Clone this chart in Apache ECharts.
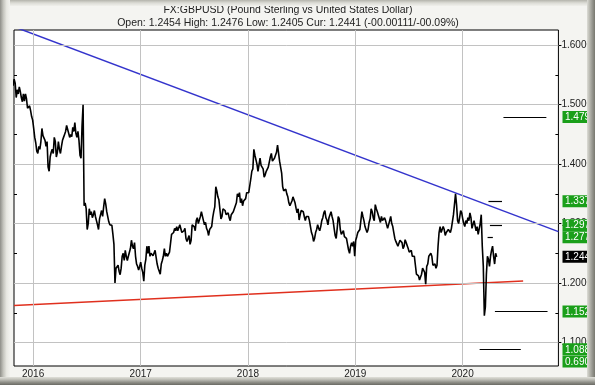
<!DOCTYPE html>
<html><head><meta charset="utf-8">
<script src="https://cdn.jsdelivr.net/npm/echarts@6/dist/echarts.min.js"></script>
<style>html,body{margin:0;padding:0;background:#f3f3ef}#c{width:595px;height:385px}</style>
</head><body><div id="c"></div>
<script>
const titleText = 'FX:GBPUSD (Pound Sterling vs United States Dollar)';
const subtitleText = 'Open: 1.2454 High: 1.2476 Low: 1.2405 Cur: 1.2441 (-00.00111/-00.09%)';
const yearLabels = [2016, 2017, 2018, 2019, 2020];
const yGridValues = [1.1, 1.2, 1.3, 1.4, 1.5, 1.6];
const yMinorValues = [1.1, 1.15, 1.2, 1.25, 1.3, 1.35, 1.4, 1.45, 1.5, 1.55, 1.6];
const xRange = ['2015-10-28', '2020-11-22'];
const yRange = [1.0605, 1.6256];

const startDate = '2015-10-25';
const stepDays = 3.5;
const px2015 = [1.532,1.543,1.536,1.512,1.525,1.518,1.530,1.522,1.512,1.505,1.518,1.506,1.518,1.510,1.494,1.492,1.498,1.490,1.480];
const px2016 = [
 1.474,1.460,1.445,1.436,1.422,1.418,1.430,1.425,1.438,
 1.460,1.448,1.447,1.440,1.430,1.438,1.395,1.388,
 1.412,1.420,1.425,1.418,1.445,1.438,1.412,1.420,1.438,
 1.425,1.418,1.430,1.440,1.445,1.450,1.455,1.465,
 1.468,1.452,1.445,1.450,1.446,1.462,1.455,1.470,1.452,
 1.445,1.455,1.440,1.415,1.410,1.465,1.500,1.330,1.335,
 1.325,1.290,1.300,1.325,1.315,1.320,1.310,1.315,1.322,
 1.312,1.305,1.298,1.290,1.308,1.315,1.322,1.312,
 1.328,1.342,1.333,1.320,1.322,1.303,1.298,1.300,1.297,
 1.282,1.265,1.200,1.225,1.222,1.230,1.220,1.214,1.225,
 1.245,1.250,1.238,1.255,1.245,1.238,1.245,1.248,
 1.258,1.272,1.262,1.258,1.268,1.245,1.232,1.228,1.222];
const px2017 = [
 1.228,1.235,1.225,1.218,1.203,1.230,1.240,1.262,1.250,
 1.262,1.245,1.250,1.248,1.246,1.245,1.255,1.243,
 1.232,1.225,1.220,1.215,1.232,1.238,1.245,1.258,1.245,
 1.250,1.245,1.248,1.252,1.255,1.282,1.280,1.285,1.292,
 1.288,1.295,1.288,1.290,1.298,1.300,1.285,1.282,
 1.288,1.292,1.275,1.270,1.275,1.280,1.265,1.272,1.298,
 1.300,1.295,1.288,1.305,1.310,1.300,1.302,1.312,1.320,
 1.322,1.305,1.298,1.302,1.292,1.288,1.280,1.290,1.290,
 1.295,1.310,1.320,1.328,1.362,1.355,1.345,1.340,
 1.338,1.308,1.312,1.325,1.328,1.322,1.315,1.312,1.318,
 1.310,1.305,1.315,1.312,1.320,1.325,1.330,1.335,1.350,
 1.345,1.352,1.335,1.342,1.330,1.338,1.335,1.342,1.352];
const px2018 = [
 1.355,1.352,1.355,1.375,1.388,1.392,1.425,1.415,
 1.418,1.400,1.388,1.385,1.410,1.398,1.395,1.392,
 1.378,1.382,1.388,1.390,1.395,1.398,1.412,1.418,1.405,
 1.405,1.410,1.415,1.420,1.432,1.430,1.405,1.395,1.385,
 1.362,1.355,1.352,1.358,1.350,1.345,1.335,1.330,1.332,
 1.338,1.345,1.340,1.335,1.326,1.318,1.325,1.306,
 1.315,1.322,1.325,1.320,1.312,1.305,1.312,1.315,1.312,
 1.305,1.295,1.285,1.280,1.270,1.275,1.285,1.290,1.298,
 1.292,1.288,1.295,1.305,1.310,1.318,1.322,1.310,1.306,
 1.298,1.310,1.315,1.320,1.312,1.305,1.292,1.280,
 1.275,1.292,1.312,1.308,1.290,1.282,1.285,1.288,1.278,
 1.280,1.275,1.272,1.256,1.250,1.262,1.268,1.262,1.270];
const px2019 = [
 1.245,1.272,1.278,1.285,1.288,1.290,1.305,1.320,1.312,
 1.305,1.295,1.290,1.285,1.290,1.302,1.308,1.325,
 1.320,1.310,1.305,1.332,1.325,1.320,1.318,1.308,1.302,
 1.312,1.305,1.308,1.310,1.305,1.302,1.292,1.295,
 1.305,1.312,1.300,1.295,1.285,1.275,1.270,1.268,1.262,
 1.265,1.272,1.270,1.268,1.258,1.262,1.273,1.268,1.270,
 1.258,1.252,1.250,1.255,1.245,1.248,1.245,1.230,
 1.215,1.212,1.212,1.205,1.210,1.215,1.225,1.222,1.218,
 1.198,1.228,1.232,1.245,1.248,1.250,1.245,1.230,1.232,
 1.232,1.225,1.230,1.262,1.285,1.295,1.285,1.285,1.295,
 1.290,1.280,1.285,1.288,1.290,1.292,1.285,1.292,
 1.292,1.315,1.314,1.350,1.332,1.305,1.300,1.310,1.322];
const px2020 = [
 1.318,1.308,1.300,1.295,1.305,1.300,1.310,1.305,1.318,
 1.310,1.292,1.290,1.305,1.302,1.288,1.295,1.282,
 1.282,1.300,1.315,1.262,1.228,1.145,1.160,1.215,1.245,
 1.240,1.228,1.245,1.255,1.262,1.245,1.232,1.250,1.244];

const targetLevels = [1.4793, 1.3376, 1.2973, 1.2772, 1.1523, 1.0886, 0.6903];
const targetStarts = ['2020-05-19', '2020-03-29', '2020-04-03', '2020-03-26', '2020-04-20', '2020-02-28', null];
const targetEnds   = ['2020-10-12', '2020-05-14', '2020-05-14', '2020-04-13', '2020-10-16', '2020-07-17', null];
const currentPrice = 1.2441;
const blueTrend = [['2015-10-28', 1.6311], ['2020-11-22', 1.2865]];
const redTrend  = [['2015-10-28', 1.1622], ['2020-07-25', 1.2034]];

const FONT = 'Liberation Sans';
const DAY = 86400000;
const toTs = s => Date.parse(s + 'T00:00:00Z');
const prices = [].concat(px2015, px2016, px2017, px2018, px2019, px2020);
const t0 = toTs(startDate);
const priceData = prices.map((v, i) => [t0 + i * stepDays * DAY, v]);

const gridStyle = { color: '#c2c2c2', width: 1, type: 'solid' };
const gridMarks = yGridValues.map(v => ({ yAxis: v, lineStyle: gridStyle }))
  .concat(yearLabels.map(y => ({ xAxis: toTs(y + '-01-01'), lineStyle: gridStyle })));
const targetMarks = [];
targetLevels.forEach((v, i) => {
  if (targetStarts[i]) targetMarks.push([{ coord: [toTs(targetStarts[i]), v] }, { coord: [toTs(targetEnds[i]), v] }]);
});

const chart = echarts.init(document.getElementById('c'), null, { renderer: 'canvas' });
const option = {
  animation: false,
  backgroundColor: '#f4f4f1',
  grid: { left: 14, top: 30, width: 548, height: 336, show: true, borderColor: '#000', borderWidth: 1, backgroundColor: '#fff' },
  xAxis: {
    type: 'value', min: toTs(xRange[0]), max: toTs(xRange[1]),
    axisLine: { show: false }, axisTick: { show: false }, splitLine: { show: false },
    axisLabel: {
      customValues: yearLabels.map(y => toTs(y + '-01-01')),
      formatter: v => String(new Date(v).getUTCFullYear()),
      margin: 3, fontSize: 10, color: '#222', fontFamily: FONT
    }
  },
  yAxis: [
    { type: 'value', position: 'left', min: yRange[0], max: yRange[1], axisLine: { show: false },
      axisLabel: { show: false }, splitLine: { show: false },
      axisTick: { show: true, inside: true, length: 3, customValues: yMinorValues, lineStyle: { color: '#000' } } },
    { type: 'value', position: 'right', min: yRange[0], max: yRange[1], axisLine: { show: false },
      splitLine: { show: false },
      axisTick: { show: true, inside: false, length: 3, customValues: yGridValues, lineStyle: { color: '#000' } },
      axisLabel: { customValues: yGridValues, formatter: v => v.toFixed(4), margin: 3, fontSize: 10, color: '#222', fontFamily: FONT } },
    { type: 'value', position: 'right', min: yRange[0], max: yRange[1], axisLine: { show: false },
      splitLine: { show: false }, axisLabel: { show: false },
      axisTick: { show: true, inside: true, length: 3, customValues: yMinorValues, lineStyle: { color: '#000' } } }
  ],
  series: [
    { name: 'grid', type: 'line', data: [], z: 1, silent: true,
      markLine: { silent: true, symbol: ['none', 'none'], label: { show: false },
        lineStyle: gridStyle, data: gridMarks, animation: false } },
    { name: 'support', type: 'line', data: redTrend.map(p => [toTs(p[0]), p[1]]), showSymbol: false, z: 3,
      lineStyle: { color: '#e0301e', width: 1.5 }, silent: true },
    { name: 'resistance', type: 'line', data: blueTrend.map(p => [toTs(p[0]), p[1]]), showSymbol: false, z: 3,
      lineStyle: { color: '#3434cc', width: 1.5 }, silent: true },
    { name: 'GBPUSD', type: 'line', data: priceData, showSymbol: false, z: 5, clip: true,
      lineStyle: { color: '#000', width: 1.6 }, silent: true,
      markLine: { silent: true, symbol: ['none', 'none'], label: { show: false },
        lineStyle: { color: '#000', width: 1.2, type: 'solid' }, data: targetMarks, animation: false } }
  ]
};
chart.setOption(option);

// right-hand price boxes, stacked like the original
const boxes = targetLevels.map(v => ({ v, bg: '#1a9f1a', fg: '#fff' }))
  .concat([{ v: currentPrice, bg: '#000', fg: '#fff' }])
  .sort((a, b) => b.v - a.v);
const gridTop = 30, gridBottom = 366, BH = 12;
let prevBottom = gridTop;
const graphics = [];
boxes.forEach(b => {
  let cy = chart.convertToPixel({ yAxisIndex: 0 }, b.v);
  cy = Math.min(cy, gridBottom - BH / 2 + 1.5);
  let top = Math.max(cy - BH / 2, prevBottom);
  prevBottom = top + BH;
  graphics.push({ type: 'rect', z: 50, shape: { x: 562.5, y: top, width: 40, height: BH }, style: { fill: b.bg } });
  graphics.push({ type: 'text', z: 51, x: 565, y: top + BH / 2 + 0.5, style: { text: b.v.toFixed(4), fill: b.fg, font: '10px ' + FONT, verticalAlign: 'middle' } });
});
// titles
graphics.push({ type: 'text', z: 60, x: 288, y: 10, style: { text: titleText, fill: '#222', font: '10.5px ' + FONT, align: 'center', verticalAlign: 'middle' } });
graphics.push({ type: 'text', z: 60, x: 288, y: 23, style: { text: subtitleText, fill: '#222', font: '10.5px ' + FONT, align: 'center', verticalAlign: 'middle' } });
// bevelled frame
const lg = (x, y, x2, y2, stops) => ({ type: 'linear', x, y, x2, y2, colorStops: stops.map((c, i) => ({ offset: i / (stops.length - 1), color: c })) });
graphics.push({ type: 'rect', z: 100, shape: { x: 0, y: 0, width: 595, height: 6 }, style: { fill: lg(0, 0, 0, 1, ['#b4b4ac', '#dcdcd6', '#f0f0ec']) } });
graphics.push({ type: 'rect', z: 100, shape: { x: 0, y: 0, width: 10, height: 385 }, style: { fill: lg(0, 0, 1, 0, ['#8e8e88', '#c4c4bd', '#e8e8e2', '#f2f2ee']) } });
graphics.push({ type: 'rect', z: 101, shape: { x: 587, y: 0, width: 8, height: 385 }, style: { fill: lg(0, 0, 1, 0, ['#dcdcd6', '#b8b8b0', '#96968f', '#78786f']) } });
graphics.push({ type: 'rect', z: 102, shape: { x: 0, y: 377, width: 595, height: 8 }, style: { fill: lg(0, 0, 0, 1, ['#e0e0da', '#bdbdb6', '#8f8f88', '#6a6a64']) } });
chart.setOption({ graphic: graphics });
</script>
</body></html>
